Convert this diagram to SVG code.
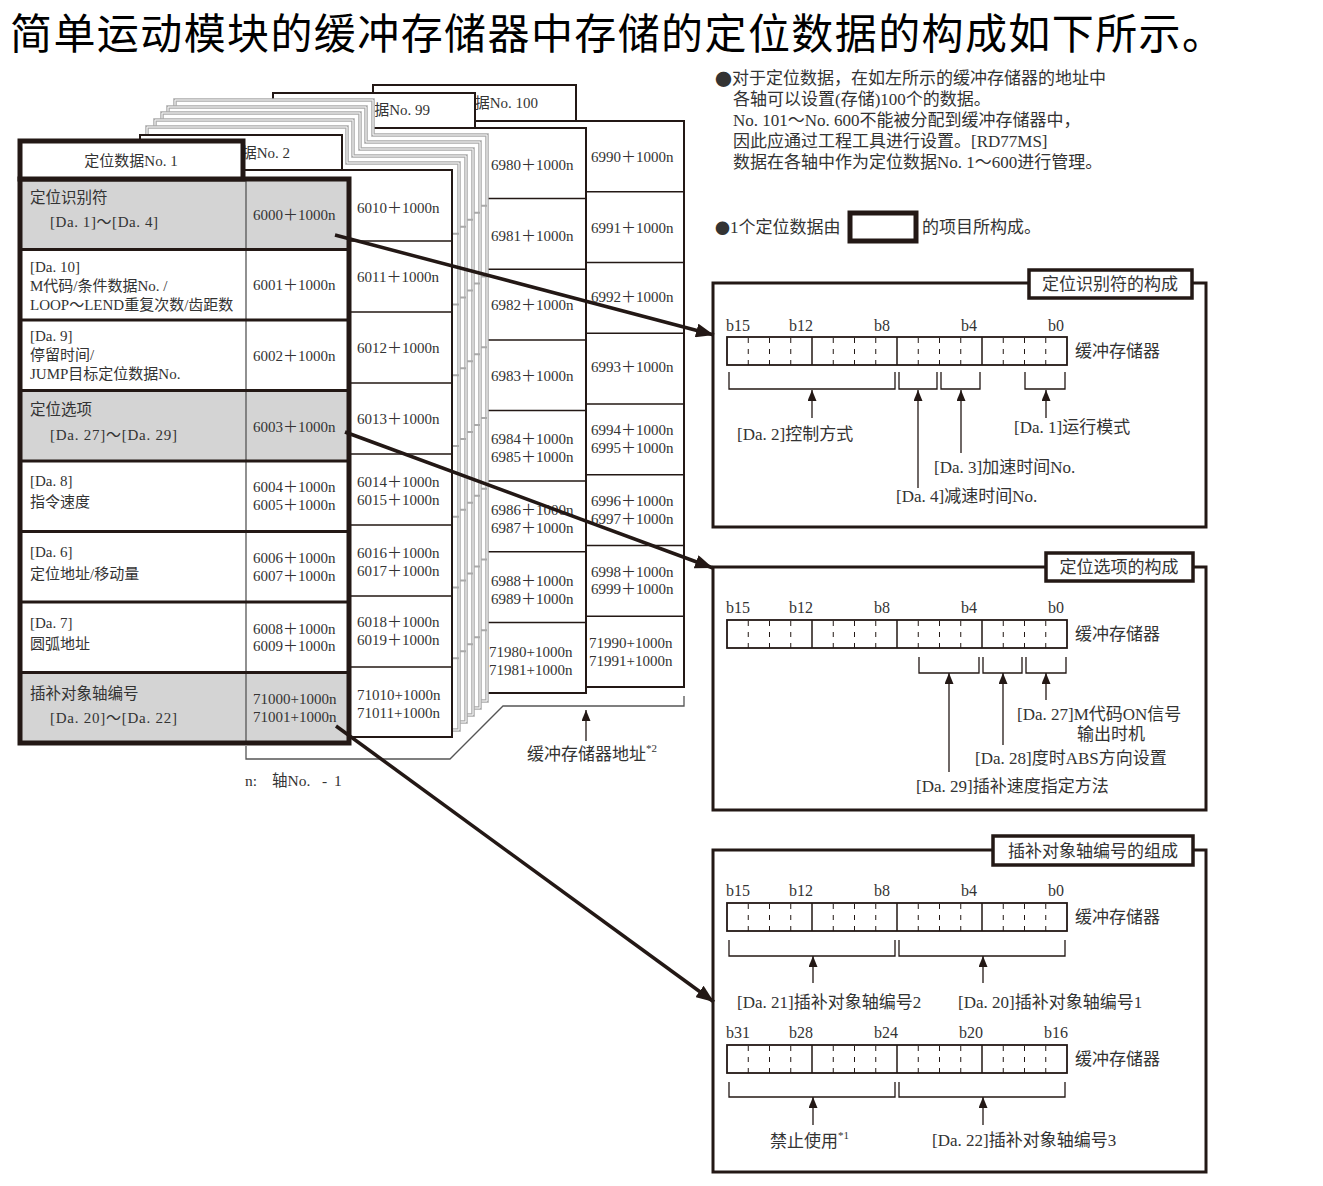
<svg xmlns="http://www.w3.org/2000/svg" width="1323" height="1186" viewBox="0 0 1323 1186">
<style>
.f{font-family:'Liberation Serif','Noto Sans CJK SC',serif;fill:#333}
.z15{font-size:15px}
.z16{font-size:16px}
.z17{font-size:17px}
.cj{font-family:'Noto Sans CJK SC',sans-serif}
.pg{fill:#fff;stroke:#231815;stroke-width:2}
.gp{fill:#fff;stroke:#a9a9a9;stroke-width:3.5}
.gi{fill:none;stroke:#fff;stroke-width:1}
.gr{stroke:#a9a9a9;stroke-width:2}
.row{stroke:#231815;stroke-width:1.5}
.row1{stroke:#231815;stroke-width:3}
.br{fill:none;stroke:#231815;stroke-width:1.3}
.sa{stroke:#231815;stroke-width:1.3;marker-end:url(#sa)}
.big{stroke:#231815;stroke-width:3.5;fill:none;marker-end:url(#ba)}
.box{fill:#fff;stroke:#231815;stroke-width:3}
.tb{fill:#fff;stroke:#231815;stroke-width:3.5}
.dash{stroke:#231815;stroke-width:1;stroke-dasharray:5 6}
.sol{stroke:#231815;stroke-width:1.5}
</style>
<defs>
<marker id="ba" markerUnits="userSpaceOnUse" markerWidth="20" markerHeight="14" refX="18" refY="7" orient="auto"><path d="M0,0 L18,7 L0,14 z" fill="#231815"/></marker>
<marker id="sa" markerUnits="userSpaceOnUse" markerWidth="12" markerHeight="10" refX="11" refY="4.5" orient="auto"><path d="M0,0 L11,4.5 L0,9 z" fill="#231815"/></marker>
<g id="reg">
<rect x="0" y="0" width="340" height="28" fill="#fff" stroke="#231815" stroke-width="1.8"/>
<path class="sol" d="M85,0V28M170,0V28M255,0V28"/>
<path class="dash" d="M21.25,1V28M42.5,1V28M63.75,1V28M106.25,1V28M127.5,1V28M148.75,1V28M191.25,1V28M212.5,1V28M233.75,1V28M276.25,1V28M297.5,1V28M318.75,1V28"/>
</g>
</defs>

<text id="title" x="10" y="49" font-family="'Noto Sans CJK SC',sans-serif" font-size="42" fill="#000" textLength="1214" lengthAdjust="spacing">简单运动模块的缓冲存储器中存储的定位数据的构成如下所示。</text>

<!-- page 100 -->
<g id="page100">
<rect class="pg" x="373" y="121" width="311" height="566"/>
<rect class="pg" x="373" y="85" width="203" height="36"/>
<text class="f z15" x="538" y="103" text-anchor="end" dominant-baseline="central">定位数据No. 100</text>
<path class="row" d="M373,191.75H684M373,262.5H684M373,333.25H684M373,404H684M373,474.75H684M373,545.5H684M373,616.25H684"/>
<g class="f z15" dominant-baseline="central">
<text x="591" y="157">6990＋1000n</text>
<text x="591" y="228">6991＋1000n</text>
<text x="591" y="297">6992＋1000n</text>
<text x="591" y="367">6993＋1000n</text>
<text x="591" y="430">6994＋1000n</text>
<text x="591" y="448">6995＋1000n</text>
<text x="591" y="501">6996＋1000n</text>
<text x="591" y="519">6997＋1000n</text>
<text x="591" y="572">6998＋1000n</text>
<text x="591" y="589">6999＋1000n</text>
<text x="589" y="643">71990+1000n</text>
<text x="589" y="661">71991+1000n</text>
</g>
</g>

<!-- page 99 -->
<g id="page99">
<rect class="pg" x="273" y="128" width="313" height="565"/>
<rect class="pg" x="273" y="93" width="202" height="35"/>
<text class="f z15" x="430" y="110" text-anchor="end" dominant-baseline="central">定位数据No. 99</text>
<path class="row" d="M273,198.6H586M273,269.25H586M273,339.9H586M273,410.5H586M273,481.1H586M273,551.75H586M273,622.4H586"/>
<g class="f z15" dominant-baseline="central">
<text x="491" y="165">6980＋1000n</text>
<text x="491" y="236">6981＋1000n</text>
<text x="491" y="305">6982＋1000n</text>
<text x="491" y="376">6983＋1000n</text>
<text x="491" y="439">6984＋1000n</text>
<text x="491" y="457">6985＋1000n</text>
<text x="491" y="510">6986＋1000n</text>
<text x="491" y="528">6987＋1000n</text>
<text x="491" y="581">6988＋1000n</text>
<text x="491" y="599">6989＋1000n</text>
<text x="489" y="652">71980+1000n</text>
<text x="489" y="670">71981+1000n</text>
</g>
</g>

<!-- gray pages 3..98 -->
<g id="pages-mid">
<path class="gp" d="M175,100H373V135H487V701H175Z"/>
<path class="gi" d="M175,100H373V135H487V701H175Z"/>
<path class="gr" d="M175,205.75H487M175,276.5H487M175,347.25H487M175,418H487M175,488.75H487M175,559.5H487M175,630.25H487"/>
<path class="gp" d="M168,107H366V142H480V708H168Z"/>
<path class="gi" d="M168,107H366V142H480V708H168Z"/>
<path class="gr" d="M168,212.75H480M168,283.5H480M168,354.25H480M168,425H480M168,495.75H480M168,566.5H480M168,637.25H480"/>
<path class="gp" d="M162,113H360V149H473V715H162Z"/>
<path class="gi" d="M162,113H360V149H473V715H162Z"/>
<path class="gr" d="M162,219.75H473M162,290.5H473M162,361.25H473M162,432H473M162,502.75H473M162,573.5H473M162,644.25H473"/>
<path class="gp" d="M155,120H353V156H466V722H155Z"/>
<path class="gi" d="M155,120H353V156H466V722H155Z"/>
<path class="gr" d="M155,226.75H466M155,297.5H466M155,368.25H466M155,439H466M155,509.75H466M155,580.5H466M155,651.25H466"/>
<path class="gp" d="M147,127H347V163H459V730H147Z"/>
<path class="gi" d="M147,127H347V163H459V730H147Z"/>
<path class="gr" d="M147,233.75H459M147,304.5H459M147,375.25H459M147,446H459M147,516.75H459M147,587.5H459M147,658.25H459"/>
</g>

<!-- page 2 -->
<g id="page2">
<rect class="pg" x="140" y="170" width="312" height="567"/>
<rect class="pg" x="140" y="135" width="202" height="35" stroke-width="1.5"/>
<text class="f z15" x="290" y="153" text-anchor="end" dominant-baseline="central">定位数据No. 2</text>
<path class="row" d="M140,241H452M140,312H452M140,383H452M140,454H452M140,525H452M140,596H452M140,667H452"/>
<g class="f z15" dominant-baseline="central">
<text x="357" y="208">6010＋1000n</text>
<text x="357" y="277">6011＋1000n</text>
<text x="357" y="348">6012＋1000n</text>
<text x="357" y="419">6013＋1000n</text>
<text x="357" y="482">6014＋1000n</text>
<text x="357" y="500">6015＋1000n</text>
<text x="357" y="553">6016＋1000n</text>
<text x="357" y="571">6017＋1000n</text>
<text x="357" y="622">6018＋1000n</text>
<text x="357" y="640">6019＋1000n</text>
<text x="357" y="695">71010+1000n</text>
<text x="357" y="713">71011+1000n</text>
</g>
</g>

<!-- page 1 -->
<g id="page1">
<rect x="20" y="179" width="329" height="564" fill="#fff"/>
<rect x="20" y="179" width="329" height="70.5" fill="#d4d4d4"/>
<rect x="20" y="390.5" width="329" height="70.5" fill="#d4d4d4"/>
<rect x="20" y="672.5" width="329" height="70.5" fill="#d4d4d4"/>
<path d="M246,179V743" stroke="#555" stroke-width="1.3"/>
<path class="row1" d="M20,249.5H349M20,320H349M20,390.5H349M20,461H349M20,531.5H349M20,602H349M20,672.5H349"/>
<rect x="20" y="179" width="329" height="564" fill="none" stroke="#231815" stroke-width="5"/>
<rect x="20" y="141" width="223" height="38" fill="#fff" stroke="#231815" stroke-width="5"/>
<text class="f z15" x="131" y="161" text-anchor="middle" dominant-baseline="central">定位数据No. 1</text>
<g class="f z15" dominant-baseline="central">
<text x="30" y="197" font-size="15.5">定位识别符</text>
<text x="50" y="222" textLength="108" lengthAdjust="spacing">[Da. 1]～[Da. 4]</text>
<text x="253" y="215">6000＋1000n</text>
<text x="30" y="267">[Da. 10]</text>
<text x="30" y="286">M代码/条件数据No. /</text>
<text x="30" y="305">LOOP～LEND重复次数/齿距数</text>
<text x="253" y="285">6001＋1000n</text>
<text x="30" y="336">[Da. 9]</text>
<text x="30" y="355">停留时间/</text>
<text x="30" y="374">JUMP目标定位数据No.</text>
<text x="253" y="356">6002＋1000n</text>
<text x="30" y="409" font-size="15.5">定位选项</text>
<text x="50" y="435" textLength="127" lengthAdjust="spacing">[Da. 27]～[Da. 29]</text>
<text x="253" y="427">6003＋1000n</text>
<text x="30" y="481">[Da. 8]</text>
<text x="30" y="502">指令速度</text>
<text x="253" y="487">6004＋1000n</text>
<text x="253" y="505">6005＋1000n</text>
<text x="30" y="552">[Da. 6]</text>
<text x="30" y="574">定位地址/移动量</text>
<text x="253" y="558">6006＋1000n</text>
<text x="253" y="576">6007＋1000n</text>
<text x="30" y="623">[Da. 7]</text>
<text x="30" y="644">圆弧地址</text>
<text x="253" y="629">6008＋1000n</text>
<text x="253" y="646">6009＋1000n</text>
<text x="30" y="693" font-size="15.5">插补对象轴编号</text>
<text x="50" y="718" textLength="127" lengthAdjust="spacing">[Da. 20]～[Da. 22]</text>
<text x="253" y="699">71000+1000n</text>
<text x="253" y="717">71001+1000n</text>
</g>
</g>

<!-- address bracket -->
<g id="address-note">
<path d="M246,746V759H450L503,706H684V696" fill="none" stroke="#555" stroke-width="1.3"/>
<text class="f" font-size="15.5" y="780" dominant-baseline="central"><tspan x="245">n:</tspan><tspan x="272">轴No.</tspan><tspan x="322">-</tspan><tspan x="334">1</tspan></text>
<line class="sa" x1="586" y1="741" x2="586" y2="710"/>
<text class="f z17" x="527" y="754" dominant-baseline="central">缓冲存储器地址<tspan font-size="11" dy="-6">*2</tspan></text>
</g>

<!-- notes -->
<g id="notes" class="f z17" dominant-baseline="central">
<text x="715" y="78"><tspan class="cj">●</tspan>对于定位数据，在如左所示的缓冲存储器的地址中</text>
<text x="733" y="99">各轴可以设置(存储)100个的数据。</text>
<text x="733" y="120">No. 101～No. 600不能被分配到缓冲存储器中，</text>
<text x="733" y="141">因此应通过工程工具进行设置。[RD77MS]</text>
<text x="733" y="162">数据在各轴中作为定位数据No. 1～600进行管理。</text>
<text x="715" y="227"><tspan class="cj" font-size="15">●</tspan>1个定位数据由</text>
<rect x="850" y="213" width="66" height="28" fill="#fff" stroke="#231815" stroke-width="5"/>
<text x="922" y="227">的项目所构成。</text>
</g>

<!-- box 1 -->
<g id="box-identifier">
<rect class="box" x="713" y="283" width="493" height="244"/>
<rect class="tb" x="1029" y="270" width="163" height="28"/>
<text class="f z17" x="1110" y="284" text-anchor="middle" dominant-baseline="central">定位识别符的构成</text>
<g class="f z16" text-anchor="middle" dominant-baseline="central">
<text x="738" y="325">b15</text><text x="801" y="325">b12</text><text x="882" y="325">b8</text><text x="969" y="325">b4</text><text x="1056" y="325">b0</text>
</g>
<use href="#reg" x="727" y="337"/>
<text class="f z17" x="1075" y="351" dominant-baseline="central">缓冲存储器</text>
<path class="br" d="M729,372V389H895V372M899,372V389H937V372M941,372V389H980V372M1025,372V389H1065V372"/>
<line class="sa" x1="812" y1="418" x2="812" y2="390"/>
<line class="sa" x1="918" y1="488" x2="918" y2="390"/>
<line class="sa" x1="961" y1="453" x2="961" y2="390"/>
<line class="sa" x1="1046" y1="418" x2="1046" y2="390"/>
<g class="f z17" dominant-baseline="central">
<text x="737" y="434">[Da. 2]控制方式</text>
<text x="1014" y="427">[Da. 1]运行模式</text>
<text x="934" y="467">[Da. 3]加速时间No.</text>
<text x="896" y="496">[Da. 4]减速时间No.</text>
</g>
</g>

<!-- box 2 -->
<g id="box-option">
<rect class="box" x="713" y="567" width="493" height="243"/>
<rect class="tb" x="1046" y="553" width="147" height="28"/>
<text class="f z17" x="1119" y="567" text-anchor="middle" dominant-baseline="central">定位选项的构成</text>
<g class="f z16" text-anchor="middle" dominant-baseline="central">
<text x="738" y="607">b15</text><text x="801" y="607">b12</text><text x="882" y="607">b8</text><text x="969" y="607">b4</text><text x="1056" y="607">b0</text>
</g>
<use href="#reg" x="727" y="620"/>
<text class="f z17" x="1075" y="634" dominant-baseline="central">缓冲存储器</text>
<path class="br" d="M919,657V673H979V657M983,657V673H1022V657M1026,657V673H1066V657"/>
<line class="sa" x1="949" y1="772" x2="949" y2="673"/>
<line class="sa" x1="1003" y1="745" x2="1003" y2="673"/>
<line class="sa" x1="1046" y1="700" x2="1046" y2="673"/>
<g class="f z17" dominant-baseline="central">
<text x="1017" y="714">[Da. 27]M代码ON信号</text>
<text x="1077" y="734">输出时机</text>
<text x="975" y="758">[Da. 28]度时ABS方向设置</text>
<text x="916" y="786">[Da. 29]插补速度指定方法</text>
</g>
</g>

<!-- box 3 -->
<g id="box-axis">
<rect class="box" x="713" y="850" width="493" height="322"/>
<rect class="tb" x="993" y="836" width="200" height="29"/>
<text class="f z17" x="1093" y="851" text-anchor="middle" dominant-baseline="central">插补对象轴编号的组成</text>
<g class="f z16" text-anchor="middle" dominant-baseline="central">
<text x="738" y="890">b15</text><text x="801" y="890">b12</text><text x="882" y="890">b8</text><text x="969" y="890">b4</text><text x="1056" y="890">b0</text>
<text x="738" y="1032">b31</text><text x="801" y="1032">b28</text><text x="886" y="1032">b24</text><text x="971" y="1032">b20</text><text x="1056" y="1032">b16</text>
</g>
<use href="#reg" x="727" y="903"/>
<use href="#reg" x="727" y="1045"/>
<text class="f z17" x="1075" y="917" dominant-baseline="central">缓冲存储器</text>
<text class="f z17" x="1075" y="1059" dominant-baseline="central">缓冲存储器</text>
<path class="br" d="M729,940V956H895V940M899,940V956H1065V940M729,1082V1097H895V1082M899,1082V1097H1065V1082"/>
<line class="sa" x1="813" y1="983" x2="813" y2="956"/>
<line class="sa" x1="983" y1="983" x2="983" y2="956"/>
<line class="sa" x1="813" y1="1125" x2="813" y2="1097"/>
<line class="sa" x1="983" y1="1125" x2="983" y2="1097"/>
<g class="f z17" dominant-baseline="central">
<text x="737" y="1002">[Da. 21]插补对象轴编号2</text>
<text x="958" y="1002">[Da. 20]插补对象轴编号1</text>
<text x="770" y="1141">禁止使用<tspan font-size="11" dy="-6">*1</tspan></text>
<text x="932" y="1140">[Da. 22]插补对象轴编号3</text>
</g>
</g>

<g id="connectors">
<path class="big" d="M335,235L714,335"/>
<path class="big" d="M345,432L713,568"/>
<path class="big" d="M336,726L714,1002"/>
</g>
</svg>
